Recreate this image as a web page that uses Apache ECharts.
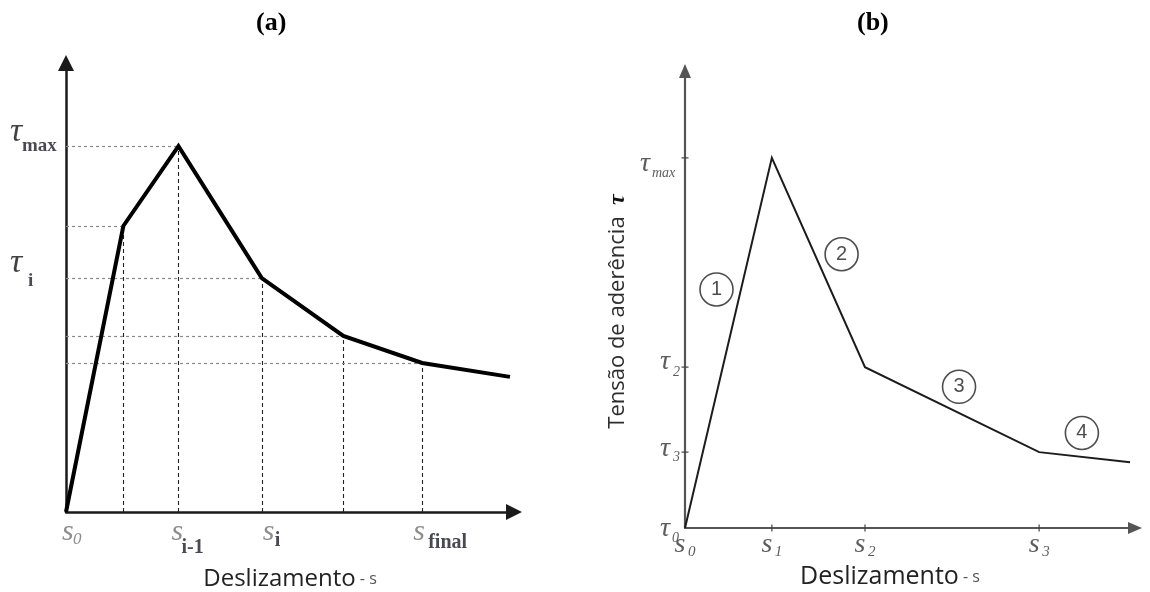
<!DOCTYPE html>
<html><head><meta charset="utf-8">
<script src="https://cdn.jsdelivr.net/npm/echarts@6/dist/echarts.min.js"></script>
<style>html,body{margin:0;padding:0;background:#fff}#c{width:1150px;height:592px}</style>
</head><body><div id="c"></div>
<script>
// ---------- Panel (a): multilinear bond-slip law ----------
const aSlip   = [0, 1.28, 2.51, 4.37, 6.19, 7.95, 9.91];
const aStress = [0, 6.37, 8.15, 5.21, 3.92, 3.32, 3.01];
const aGuideIdx = [1, 2, 3, 4, 5];              // breakpoints with dashed guides
const aXLabelIdx = [0, 2, 3, 5];                // breakpoints carrying s labels
const aXLabelMain = ['s', 's', 's', 's'];
const aXLabelSub  = ['0', 'i-1', 'i', 'final'];
const aYLabelIdx = [2, 3];                      // breakpoints carrying τ labels
const aYLabelMain = ['τ', 'τ'];
const aYLabelSub  = ['max', 'i'];

// ---------- Panel (b): 4-branch bond-slip law ----------
const bSlip   = [0, 1.93, 4.00, 7.87, 9.89];
const bStress = [0, 8.10, 3.52, 1.66, 1.44];
const bXLabelIdx = [0, 1, 2, 3];
const bXLabelMain = ['s', 's', 's', 's'];
const bXLabelSub  = ['0', '1', '2', '3'];
const bYLabelIdx = [1, 2, 3, 0];
const bYLabelMain = ['τ', 'τ', 'τ', 'τ'];
const bYLabelSub  = ['max', '2', '3', '0'];
const bBranchX = [0.70, 3.48, 6.09, 8.82];
const bBranchY = [5.22, 5.99, 3.09, 2.08];
const bBranchText = ['1', '2', '3', '4'];

const panelTitles = ['(a)', '(b)'];
const xAxisTitle = 'Deslizamento';
const xAxisSymbol = ' - s';
const yAxisTitleB = 'Tensão de aderência';
const yAxisSymbolB = 'τ';

// ---------- layout / style constants (pixel nudges of labels) ----------
const A_XMAIN_OFF = [[-4, 20], [-7, 20], [1, 20], [-9, 20]];
const A_XSUB_OFF  = [[7, 28], [3, 36], [13, 29], [6, 31]];
const A_YMAIN_OFF = [[-56, -14.5], [-56, -15.5]];
const A_YSUB_OFF  = [[-44, 0], [-38, 3.5]];
const B_XMAIN_OFF = [[-5, 16.5], [-5, 16.5], [-5, 16.5], [-5, 16.5]];
const B_XSUB_OFF  = [[3, 24], [3, 24], [3, 24], [3, 24]];
const B_YMAIN_OFF = [[-45, 5.5], [-25, -5.5], [-25, -3], [-25, 0.5]];
const B_YSUB_OFF  = [[-33, 15], [-12, 5], [-12, 5], [-13, 10]];
const SERIF = 'Liberation Serif';
const SANS = 'Open Sans';

function axisBase(gi, color, width, arrow) {
  return {
    type: 'value', gridIndex: gi, min: 0, max: 10,
    axisLine: { show: true, onZero: false, symbol: ['none', 'triangle'], symbolSize: arrow,
      lineStyle: { color: color, width: width } },
    axisTick: { show: false }, axisLabel: { show: false }, splitLine: { show: false }
  };
}

const pts = (xs, ys) => xs.map((x, i) => [x, ys[i]]);
const hidden = { color: 'rgba(0,0,0,0)' };

// a text-only series: each label anchored to a data point, nudged by a pixel offset
function textSeries(gi, anchors, texts, offs, style, align, perItem) {
  return {
    type: 'scatter', xAxisIndex: gi, yAxisIndex: gi, symbolSize: 0, itemStyle: hidden, z: 7, silent: true,
    data: anchors.map((a, k) => ({ value: a, label: Object.assign({ offset: offs[k] }, perItem ? perItem(k) : {}) })),
    label: Object.assign({ show: true, position: 'inside', align: align, verticalAlign: 'middle',
      formatter: p => texts[p.dataIndex] }, style)
  };
}

// dashed guides for panel (a)
const guides = [];
aGuideIdx.forEach(i => {
  const x = aSlip[i], y = aStress[i];
  guides.push([{ coord: [0, y], lineStyle: { color: '#8a8a8a', width: 1.2, type: [3, 3] } }, { coord: [x, y] }]);
  guides.push([{ coord: [x, 0], lineStyle: { color: '#222', width: 1.1, type: [4, 3] } }, { coord: [x, y] }]);
});

const aXAnchors = aXLabelIdx.map(i => [aSlip[i], 0]);
const aYAnchors = aYLabelIdx.map(i => [0, aStress[i]]);
const bXAnchors = bXLabelIdx.map(i => [bSlip[i], 0]);
const bYAnchors = bYLabelIdx.map(i => [0, bStress[i]]);

const option = {
  animation: false,
  backgroundColor: '#fff',
  title: panelTitles.map((t, k) => ({
    text: t, left: k === 0 ? 251 : 852, top: 5,
    textStyle: { fontFamily: SERIF, fontWeight: 'bold', fontSize: 26, color: '#000' }
  })),
  grid: [
    { left: 66, top: 63, width: 448, height: 449, outerBoundsMode: 'none' },
    { left: 685, top: 71, width: 450, height: 457, outerBoundsMode: 'none' }
  ],
  xAxis: [
    Object.assign(axisBase(0, '#1a1a1a', 2.5, [16, 16]), {
      name: '{d|' + xAxisTitle + '}{s|' + xAxisSymbol + '}', nameLocation: 'middle', nameGap: 54,
      nameTextStyle: { rich: {
        d: { fontFamily: SANS, fontSize: 24, lineHeight: 26, color: '#222' },
        s: { fontFamily: SANS, fontSize: 16, lineHeight: 26, color: '#555' } } }
    }),
    Object.assign(axisBase(1, '#555', 2.2, [12, 14]), {
      name: '{d|' + xAxisTitle + '}{s|' + xAxisSymbol + '}', nameLocation: 'middle', nameGap: 36,
      nameTextStyle: { padding: [0, 40, 0, 0], rich: {
        d: { fontFamily: SANS, fontSize: 25, lineHeight: 26, color: '#222' },
        s: { fontFamily: SANS, fontSize: 16, lineHeight: 26, color: '#555' } } }
    })
  ],
  yAxis: [
    axisBase(0, '#1a1a1a', 2.5, [16, 16]),
    Object.assign(axisBase(1, '#555', 2.2, [12, 14]), {
      name: '{t|' + yAxisTitleB + '  }{tau|' + yAxisSymbolB + '}', nameLocation: 'middle', nameRotate: 90, nameGap: 55,
      nameTextStyle: { padding: [0, 24, 0, 0], rich: {
        t: { fontFamily: SANS, fontSize: 22, lineHeight: 24, color: '#2e2e2e' },
        tau: { fontFamily: SERIF, fontStyle: 'italic', fontWeight: 'bold', fontSize: 24, lineHeight: 24, color: '#111' } } }
    })
  ],
  series: [
    // panel (a) curve + guides
    {
      type: 'line', xAxisIndex: 0, yAxisIndex: 0, data: pts(aSlip, aStress),
      symbol: 'none', z: 4,
      lineStyle: { color: '#000', width: 4, join: 'miter' },
      markLine: { silent: true, symbol: ['none', 'none'], label: { show: false }, z: 2, data: guides }
    },
    // panel (a) labels
    textSeries(0, aXAnchors, aXLabelMain, A_XMAIN_OFF,
      { fontFamily: SERIF, fontStyle: 'italic', fontSize: 30, color: '#707070' }, 'left'),
    textSeries(0, aXAnchors, aXLabelSub, A_XSUB_OFF,
      { fontFamily: SERIF, fontWeight: 'bold', fontSize: 20, color: '#1b1b28' }, 'left',
      k => k === 0 ? { fontStyle: 'italic', fontWeight: 'normal', fontSize: 17, color: '#707070' } : {}),
    textSeries(0, aYAnchors, aYLabelMain, A_YMAIN_OFF,
      { fontFamily: SERIF, fontStyle: 'italic', fontSize: 34, color: '#111' }, 'left'),
    textSeries(0, aYAnchors, aYLabelSub, A_YSUB_OFF,
      { fontFamily: SERIF, fontWeight: 'bold', fontSize: 19, color: '#1b1b28' }, 'left'),
    // panel (b) curve
    {
      type: 'line', xAxisIndex: 1, yAxisIndex: 1, data: pts(bSlip, bStress),
      symbol: 'none', z: 4, lineStyle: { color: '#1c1c1c', width: 2, join: 'miter' }
    },
    // panel (b) y ticks
    {
      type: 'scatter', xAxisIndex: 1, yAxisIndex: 1, symbol: 'rect', symbolSize: [7, 1.5],
      itemStyle: { color: '#444' }, z: 5, silent: true,
      data: bYLabelIdx.filter(i => i !== 0).map(i => [0, bStress[i]])
    },
    // panel (b) x ticks
    {
      type: 'scatter', xAxisIndex: 1, yAxisIndex: 1, symbol: 'rect', symbolSize: [1.5, 7],
      itemStyle: { color: '#444' }, z: 5, silent: true,
      data: bXLabelIdx.filter(i => i !== 0).map(i => [bSlip[i], 0])
    },
    // panel (b) labels
    textSeries(1, bXAnchors, bXLabelMain, B_XMAIN_OFF,
      { fontFamily: SERIF, fontStyle: 'italic', fontSize: 28, color: '#333' }, 'center'),
    textSeries(1, bXAnchors, bXLabelSub, B_XSUB_OFF,
      { fontFamily: SERIF, fontStyle: 'italic', fontSize: 15, color: '#333' }, 'left'),
    textSeries(1, bYAnchors, bYLabelMain, B_YMAIN_OFF,
      { fontFamily: SERIF, fontStyle: 'italic', fontSize: 28, color: '#333' }, 'left'),
    textSeries(1, bYAnchors, bYLabelSub, B_YSUB_OFF,
      { fontFamily: SERIF, fontStyle: 'italic', fontSize: 14, color: '#333' }, 'left'),
    // panel (b) branch markers
    {
      type: 'scatter', xAxisIndex: 1, yAxisIndex: 1, symbol: 'circle', symbolSize: 33, z: 6,
      itemStyle: { color: 'rgba(0,0,0,0)', borderColor: '#222', borderWidth: 1.6 },
      data: pts(bBranchX, bBranchY),
      label: { show: true, position: 'inside', formatter: p => bBranchText[p.dataIndex],
        fontFamily: 'Liberation Sans', fontSize: 20, color: '#222' }
    }
  ]
};

const chart = echarts.init(document.getElementById('c'), null, { renderer: 'canvas' });
chart.setOption(option);
</script>
</body></html>
